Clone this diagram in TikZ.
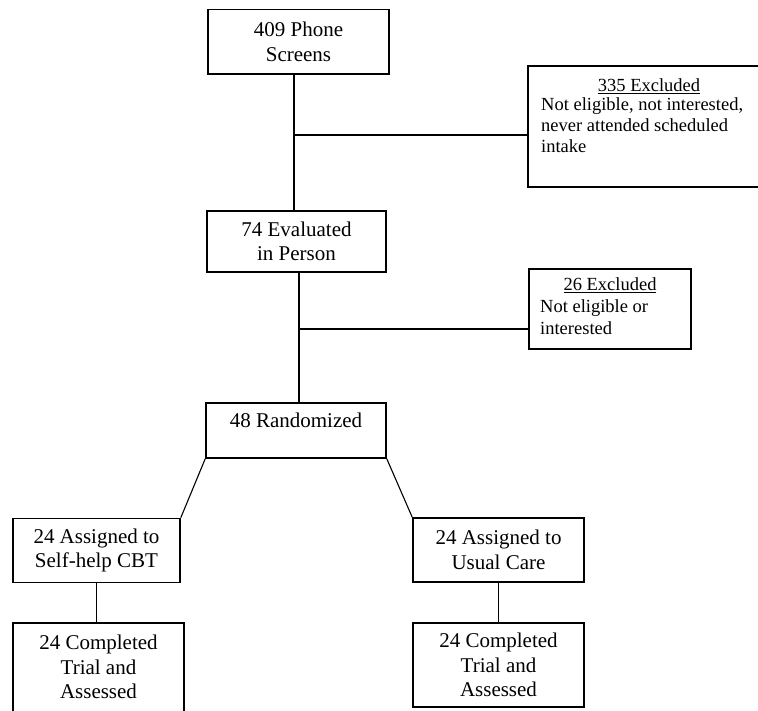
\documentclass[tikz,border=0pt]{standalone}
\usepackage{fontspec}
\setmainfont{Liberation Serif}
\begin{document}
\begin{tikzpicture}[x=1pt,y=-1pt,
  mainfont/.style={font=\fontsize{21}{24.5}\selectfont},
  exfont/.style={font=\fontsize{18.5}{21.5}\selectfont},
  box/.style={draw, line width=1.6pt, inner sep=0pt, align=center, mainfont},
  frame/.style={draw, line width=1.6pt, inner sep=0pt},
  txt/.style={inner sep=0pt, align=center, mainfont},
  extxt/.style={inner sep=0pt, align=left, exfont},
  conn/.style={line width=1.5pt},
  diag/.style={line width=1.1pt}]
\useasboundingbox (0,0) rectangle (758,711);
\fill[white] (0,0) rectangle (758,711);

% main column
\node[box, minimum width=181pt, minimum height=64.5pt] (b1) at (298.5,41.75) {409 Phone\\Screens};
\node[box, minimum width=179pt, minimum height=61pt] (b2) at (296.5,241.5) {74 Evaluated\\in Person};
\node[frame, minimum width=180pt, minimum height=55pt] (b3) at (296,430.5) {};
\node[txt, anchor=base] (b3t) at (296,427) {48 Randomized};

% excluded boxes
\node[frame, minimum width=242pt, minimum height=121pt] (e1) at (649,126.5) {};
\node[extxt, anchor=base] (e1h) at (649,92) {\underline{335 Excluded}};
\node[extxt, anchor=base west] (e1a) at (541,111) {Not eligible, not interested,};
\node[extxt, anchor=base west] (e1b) at (541,132) {never attended scheduled};
\node[extxt, anchor=base west] (e1c) at (541,153) {intake};

\node[frame, minimum width=162pt, minimum height=80pt] (e2) at (610,309) {};
\node[extxt, anchor=base] (e2h) at (610,291) {\underline{26 Excluded}};
\node[extxt, anchor=base west] (e2a) at (540,313) {Not eligible or};
\node[extxt, anchor=base west] (e2b) at (540,335) {interested};

% arms
\node[box, minimum width=167pt, minimum height=64pt] (b4l) at (96.5,550.5) {24 Assigned to\\Self-help CBT};
\node[box, minimum width=171pt, minimum height=64pt] (b4r) at (498.5,550) {24 Assigned to\\Usual Care};
\node[frame, minimum width=171pt, minimum height=117pt] (b5l) at (98.5,681.5) {};
\node[txt] (b5lt) at (98.5,667) {24 Completed\\Trial and\\Assessed};
\node[box, minimum width=171pt, minimum height=84pt] (b5r) at (498.5,665) {24 Completed\\Trial and\\Assessed};

% connectors
\coordinate (j1) at (294,135);
\coordinate (j2) at (299,329);
\draw[conn] (b1.south -| j1) -- (b2.north -| j1);
\draw[conn] (j1) -- (e1.west |- j1);
\draw[conn] (b2.south -| j2) -- (b3.north -| j2);
\draw[conn] (j2) -- (e2.west |- j2);
\draw[diag] (b3.south west) -- (b4l.north east);
\draw[diag] (b3.south east) -- (b4r.north west);
\draw[conn] (b4l.south) -- (b4l.south |- b5l.north);
\draw[conn] (b4r.south) -- (b5r.north);
\end{tikzpicture}
\end{document}
